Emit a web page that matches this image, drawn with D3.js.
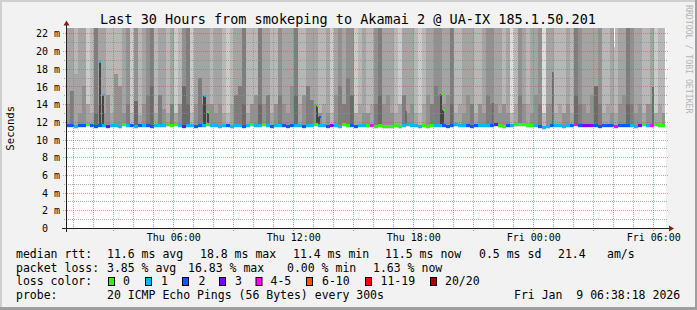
<!DOCTYPE html>
<html>
<head>
<meta charset="utf-8">
<script src="https://cdnjs.cloudflare.com/ajax/libs/d3/7.8.5/d3.min.js"></script>
<style>
  body { margin: 0; background: #f2f2f2; }
  svg text { font-family: "DejaVu Sans Mono", monospace; white-space: pre; }
</style>
</head>
<body>
<svg id="canvas" width="697" height="310"></svg>
<script>
// time axis: hours since Thu 00:00, graph ends Fri 06:38:18
let startHour = 38 / 60 + 18 / 3600
let spanHours = 30
let stepHours = 0.2 // one smoke column = 12 min

let titleText = "Last 30 Hours from smokeping to Akamai 2 @ UA-IX 185.1.50.201"

let xTickHours = [6, 12, 18, 24, 30]
let xTickLabels = ["Thu 06:00", "Thu 12:00", "Thu 18:00", "Fri 00:00", "Fri 06:00"]
let yTicks = [0, 2, 4, 6, 8, 10, 12, 14, 16, 18, 20, 22]

// median rtt (ms) per column
let medianRtt = [
  11.6,11.6,11.5,11.6,11.6,11.7,11.6,11.5,11.6,11.6,
  11.5,11.6,11.6,11.5,11.7,11.6,11.6,11.5,11.6,11.6,
  11.6,11.5,11.6,11.6,11.6,11.7,11.6,11.7,11.6,11.5,
  11.6,11.6,11.5,11.6,11.6,11.7,11.6,11.6,11.5,11.6,
  11.6,11.5,11.6,11.6,11.5,11.6,11.7,11.6,11.6,11.7,
  11.6,11.5,11.6,11.6,11.6,11.5,11.6,11.6,11.6,11.5,
  11.6,11.6,11.7,11.6,11.6,11.5,11.6,11.6,11.5,11.7,
  11.6,11.6,11.5,11.6,11.6,11.6,11.6,11.5,11.6,11.5,
  11.5,11.5,11.6,11.5,11.6,11.7,11.6,11.6,11.5,11.6,
  11.5,11.6,11.6,11.6,11.6,11.5,11.6,11.7,11.6,11.6,
  11.6,11.5,11.6,11.6,11.6,11.6,11.6,11.7,11.6,11.5,
  11.6,11.6,11.7,11.7,11.7,11.6,11.6,11.6,11.5,11.4,
  11.5,11.6,11.6,11.6,11.5,11.6,11.6,11.7,11.6,11.6,
  11.6,11.6,11.6,11.5,11.6,11.6,11.6,11.5,11.6,11.6,
  11.6,11.6,11.5,11.6,11.7,11.6,11.6,11.7,11.6,11.6
]

// fastest ping (ms) per column
let minRtt = [
  11.3,11.3,11.2,11.3,11.3,11.4,11.3,11.2,11.3,11.3,
  11.2,11.3,11.3,11.2,11.4,11.3,11.3,11.2,11.3,11.3,
  11.3,11.2,11.3,11.3,11.3,11.4,11.3,11.4,11.3,11.2,
  11.3,11.3,11.2,11.3,11.3,11.4,11.3,11.3,11.2,11.3,
  11.3,11.2,11.3,11.3,11.2,11.3,11.4,11.3,11.3,11.4,
  11.3,11.2,11.3,11.3,11.3,11.2,11.3,11.3,11.3,11.2,
  11.3,11.3,11.4,11.3,11.3,11.2,11.3,11.3,11.2,11.4,
  11.3,11.3,11.2,11.3,11.3,11.3,11.3,11.2,11.3,11.2,
  11.2,11.2,11.3,11.2,11.3,11.4,11.3,11.3,11.2,11.3,
  11.2,11.3,11.3,11.3,11.3,11.2,11.3,11.4,11.3,11.3,
  11.3,11.2,11.3,11.3,11.3,11.3,11.3,11.4,11.3,11.2,
  11.3,11.3,11.4,11.4,11.4,11.3,11.3,11.3,11.2,11.1,
  11.2,11.3,11.3,11.3,11.2,11.3,11.3,11.4,11.3,11.3,
  11.3,11.3,11.3,11.2,11.3,11.3,11.3,11.2,11.3,11.3,
  11.3,11.3,11.2,11.3,11.4,11.3,11.3,11.4,11.3,11.3
]

// lost pings (of 20) per column
let lostPings = [
  2,2,1,2,2,0,2,2,2,1,
  3,1,1,1,0,1,2,1,2,1,
  2,2,1,1,1,0,0,0,1,3,
  1,1,2,2,1,0,1,1,1,1,
  2,1,1,1,2,1,0,1,1,0,
  1,2,1,1,2,2,2,1,1,2,
  1,1,0,1,1,2,3,1,1,0,
  0,2,2,1,1,0,4,0,0,0,
  0,0,0,0,1,1,1,1,1,0,
  0,0,1,1,2,2,2,1,1,1,
  2,2,2,1,1,1,2,3,0,0,
  2,1,0,0,0,0,0,1,2,1,
  1,2,1,1,1,1,2,4,2,3,
  3,3,2,2,2,2,2,4,2,2,
  2,1,1,3,0,1,4,0,0,0
]

// smoke: pings still above the top of the dense part (they run off the graph)
let slowPings = [
  4,4,3,4,4,2,3,6,4,4,
  3,3,3,3,4,5,2,5,3,4,
  5,6,3,4,4,3,4,2,3,5,
  6,2,4,4,4,4,3,4,4,3,
  2,3,4,4,6,3,3,3,6,4,
  4,3,3,5,4,4,4,6,3,3,
  4,4,4,3,3,4,2,4,5,4,
  5,5,2,3,4,3,3,5,6,4,
  4,4,3,2,4,4,4,3,2,3,
  4,4,5,5,4,4,6,3,3,4,
  4,4,3,3,4,5,5,4,4,3,
  4,1,3,5,4,3,4,4,5,1,
  4,4,3,3,3,4,3,6,5,4,
  4,4,4,5,3,3,4,3,4,4,
  6,5,4,4,3,3,4,2,3,3
]
// rtt (ms) where the dense part of the smoke ends
let denseTopRtt = [
  14,15.5,17.4,13,16,14,13,13,14,13,
  15,13,17.4,16,13,14,13,14.4,12.8,14,
  15,16,13,15,13.5,13,14,13,14,16,
  14,13,14,17,14,14,14,13,14,13,
  13,14,15,16,14,13,14,15,14,14,
  15,13,14,15,14,13,16,15,14,15,
  16,14.5,14,13,14,13,13,15,16,14,
  17,15,13,14,13,13,14,14,15,14,
  15,13,13,14,15,13,14,13,13,14,
  15,14,16,15,14,15,14,13,14,13,
  15,14,13,14,13,15,14,14,13,14,
  13,13,14,15,14,14,13,15,14,13,
  14,14,13,14,13,14,13,15,14,14,
  13,15,16,14,13,14,13,13,14,15,
  14,14,13,14,13,14,14,13,14,13
]
// pings above the median in the dense part
let densePings = [
  5,6,4,5,5,4,4,7,5,5,
  5,4,5,5,5,6,3,7,4,5,
  6,7,4,6,5,4,6,4,5,7,
  7,3,5,6,6,5,5,5,5,4,
  3,4,6,6,7,4,5,5,7,5,
  6,4,5,6,5,5,5,7,4,5,
  6,6,5,5,4,5,3,5,6,6,
  6,7,4,4,5,5,4,6,7,5,
  5,5,4,4,6,5,5,4,3,4,
  5,6,6,6,5,5,7,4,4,5,
  5,6,4,5,5,6,6,5,5,5,
  5,3,4,6,5,4,5,5,6,3,
  5,5,4,4,5,5,4,7,6,5,
  5,5,7,6,4,4,5,4,5,5,
  7,6,5,5,4,5,5,4,4,5
]

// single 5 min steps where the median jumped
let spikeHours = [2.27, 2.44, 7.51, 7.67, 13.14, 13.25, 19.34, 19.44]
let spikeRtt = [18.8, 15.0, 14.9, 13.1, 13.8, 12.5, 15.1, 13.3]
let spikeLoss = [1, 1, 1, 0, 0, 2, 0, 0]

// single 5 min steps with a narrow dense smoke column
let denseHours = [17.61, 21.94, 24.94, 29.94]
let denseRtt = [13.25, 14.1, 17.6, 15.9]

// step where the slowest ping stayed on the graph
let gapHours = [28.02]
let gapRtt = [20.5]

let lossLabels = ["0", "1", "2", "3", "4-5", "6-10", "11-19", "20/20"]
let lossColors = ["#26ff00", "#00b8ff", "#0059ff", "#7e00ff", "#ff00ff", "#ff5500", "#ff0000", "#a10000"]
let lossUpper = [0, 1, 2, 3, 5, 10, 19, 20]

let legendRtt = [["median rtt:", 16], ["11.6 ms avg", 107], ["18.8 ms max", 200], ["11.4 ms min", 293],
  ["11.5 ms now", 385], ["0.5 ms sd", 479], ["21.4", 558], ["am/s", 607]]
let legendLoss = [["packet loss:", 16], ["3.85 % avg", 107], ["16.83 % max", 188], ["0.00 % min", 287], ["1.63 % now", 373]]
let legendProbe = [["probe:", 16], ["20 ICMP Echo Pings (56 Bytes) every 300s", 107], ["Fri Jan  9 06:38:18 2026", 514]]

let canvas = d3.select("#canvas")
let fiveMin = 1 / 12

let x = d3.scaleLinear().domain([startHour, startHour + spanHours]).range([66, 666])
let y = d3.scaleLinear().domain([0, 22.6]).range([228, 28])
let topRtt = y.domain()[1]

// smokeping shading: more pings around -> darker grey
let shade = (n) => {
  let g = Math.floor(190 / 10 * (10 - n)) + 50
  return `rgb(${g},${g},${g})`
}
let lossColor = (n) => lossColors[lossUpper.findIndex((u) => n <= u)]

// frame
canvas.append("rect").attr("width", 697).attr("height", 310).attr("fill", "#f2f2f2")
canvas.append("rect").attr("x", 0).attr("y", 0).attr("width", 697).attr("height", 2).attr("fill", "#cfcfcf")
canvas.append("rect").attr("x", 0).attr("y", 0).attr("width", 2).attr("height", 310).attr("fill", "#cfcfcf")
canvas.append("rect").attr("x", 0).attr("y", 307).attr("width", 697).attr("height", 3).attr("fill", "#9e9e9e")
canvas.append("rect").attr("x", 695).attr("y", 0).attr("width", 2).attr("height", 310).attr("fill", "#9e9e9e")

canvas.append("rect")
  .attr("x", x(startHour)).attr("y", y(topRtt))
  .attr("width", x(startHour + spanHours) - x(startHour))
  .attr("height", y(0) - y(topRtt))
  .attr("fill", "#ffffff")

canvas.append("clipPath").attr("id", "plotClip")
  .append("rect")
  .attr("x", x(startHour)).attr("y", y(topRtt))
  .attr("width", x(startHour + spanHours) - x(startHour) - 1)
  .attr("height", y(0) - y(topRtt))

let smoke = canvas.append("g").attr("clip-path", "url(#plotClip)").attr("shape-rendering", "crispEdges")
let colX = (i) => x(startHour + i * stepHours)

// upper smoke, running off the top
smoke.selectAll(".upper")
  .data(slowPings)
  .enter()
  .append("rect")
  .attr("class", "upper")
  .attr("x", (d, i) => colX(i))
  .attr("width", (d, i) => colX(i + 1) - colX(i))
  .attr("y", y(topRtt))
  .attr("height", (d, i) => y(denseTopRtt[i]) - y(topRtt))
  .attr("fill", (d) => shade(d))

// dense smoke above the median
smoke.selectAll(".dense")
  .data(densePings)
  .enter()
  .append("rect")
  .attr("class", "dense")
  .attr("x", (d, i) => colX(i))
  .attr("width", (d, i) => colX(i + 1) - colX(i))
  .attr("y", (d, i) => y(denseTopRtt[i]))
  .attr("height", (d, i) => y(medianRtt[i]) - y(denseTopRtt[i]))
  .attr("fill", (d) => shade(d))

// white notch where nothing was slower
smoke.selectAll(".gap")
  .data(gapHours)
  .enter()
  .append("rect")
  .attr("x", (d) => x(d))
  .attr("width", (d) => x(d + fiveMin) - x(d))
  .attr("y", y(topRtt))
  .attr("height", (d, i) => y(gapRtt[i]) - y(topRtt))
  .attr("fill", "#ffffff")

// narrow dense columns
smoke.selectAll(".narrow")
  .data(denseHours)
  .enter()
  .append("rect")
  .attr("x", (d) => x(d))
  .attr("width", (d) => x(d + fiveMin) - x(d))
  .attr("y", (d, i) => y(denseRtt[i]))
  .attr("height", (d, i) => y(11.6) - y(denseRtt[i]))
  .attr("fill", shade(7))

// smoke under the median spikes
smoke.selectAll(".spikebar")
  .data(spikeHours)
  .enter()
  .append("rect")
  .attr("x", (d) => x(d))
  .attr("width", (d) => x(d + fiveMin) - x(d) + 0.4)
  .attr("y", (d, i) => y(spikeRtt[i]))
  .attr("height", (d, i) => y(11.6) - y(spikeRtt[i]))
  .attr("fill", shade(9))

// fastest pings below the median
smoke.selectAll(".lower")
  .data(minRtt)
  .enter()
  .append("rect")
  .attr("x", (d, i) => colX(i))
  .attr("width", (d, i) => colX(i + 1) - colX(i))
  .attr("y", (d, i) => y(medianRtt[i]))
  .attr("height", (d, i) => y(d) - y(medianRtt[i]))
  .attr("fill", shade(1))

// median line coloured by loss
smoke.selectAll(".median")
  .data(medianRtt)
  .enter()
  .append("rect")
  .attr("x", (d, i) => colX(i))
  .attr("width", (d, i) => colX(i + 1) - colX(i))
  .attr("y", (d) => y(d) - 1)
  .attr("height", 2.5)
  .attr("fill", (d, i) => lossColor(lostPings[i]))

smoke.selectAll(".spikedot")
  .data(spikeHours)
  .enter()
  .append("rect")
  .attr("x", (d) => x(d) + 0.5)
  .attr("width", 2)
  .attr("y", (d, i) => y(spikeRtt[i]) - 1)
  .attr("height", 2)
  .attr("fill", (d, i) => lossColor(spikeLoss[i]))

// grid on top of the graph, rrdtool style
let grid = canvas.append("g").attr("stroke-dasharray", "1,1").attr("shape-rendering", "crispEdges")
let hours = d3.range(Math.ceil(startHour), startHour + spanHours, 1)
grid.selectAll(".vgrid")
  .data(hours)
  .enter()
  .append("line")
  .attr("x1", (d) => Math.round(x(d)) + 0.5)
  .attr("x2", (d) => Math.round(x(d)) + 0.5)
  .attr("y1", y(topRtt))
  .attr("y2", (d) => d % 3 === 0 ? 231 : 230)
  .attr("stroke", (d) => d % 3 === 0 ? "rgba(222,79,79,0.6)" : "rgba(143,143,143,0.75)")

let rttLines = d3.range(1, 23, 1)
grid.selectAll(".hgrid")
  .data(rttLines)
  .enter()
  .append("line")
  .attr("x1", (d) => d % 2 === 0 ? 63 : 64)
  .attr("x2", 668)
  .attr("y1", (d) => Math.round(y(d)) + 0.5)
  .attr("y2", (d) => Math.round(y(d)) + 0.5)
  .attr("stroke", (d) => d % 2 === 0 ? "rgba(222,79,79,0.6)" : "rgba(143,143,143,0.75)")

// axes lines and arrows
canvas.append("line").attr("x1", 62).attr("x2", 670).attr("y1", 228.5).attr("y2", 228.5)
  .attr("stroke", "#1f1f1f").attr("stroke-width", 1)
canvas.append("line").attr("x1", 66.5).attr("x2", 66.5).attr("y1", 232).attr("y2", 24)
  .attr("stroke", "#1f1f1f").attr("stroke-width", 1)
canvas.append("path").attr("d", "M669,225.5L674,228.5L669,231.5Z").attr("fill", "#801f1f")
canvas.append("path").attr("d", "M63.5,25.5L66.5,20.5L69.5,25.5Z").attr("fill", "#801f1f")

// axis labels through d3 axes
let xAxis = d3.axisBottom(x)
  .tickValues(xTickHours)
  .tickFormat((d, i) => xTickLabels[i])
  .tickSize(0)
canvas.append("g")
  .attr("transform", "translate(0,228)")
  .call(xAxis)
  .call((g) => g.select(".domain").remove())
  .selectAll("text")
  .attr("y", 13)
  .attr("dy", 0)
  .attr("font-family", "DejaVu Sans Mono")
  .attr("font-size", "10px")
  .attr("fill", "#000")

let yAxis = d3.axisLeft(y)
  .tickValues(yTicks)
  .tickFormat((d) => d === 0 ? "0" : d + " m")
  .tickSize(0)
canvas.append("g")
  .attr("transform", "translate(66,0)")
  .call(yAxis)
  .call((g) => g.select(".domain").remove())
  .selectAll("text")
  .attr("x", (d) => d === 0 ? -18 : -6)
  .attr("dy", "0.36em")
  .attr("font-family", "DejaVu Sans Mono")
  .attr("font-size", "10px")
  .attr("fill", "#000")

canvas.append("text")
  .attr("transform", "translate(14,128.3) rotate(-90)")
  .attr("text-anchor", "middle")
  .attr("font-size", "10.6px")
  .text("Seconds")

canvas.append("text")
  .attr("x", 348)
  .attr("y", 24)
  .attr("text-anchor", "middle")
  .attr("font-size", "13.5px")
  .text(titleText)

canvas.append("text")
  .attr("transform", "translate(686,5) rotate(90)")
  .attr("font-size", "8.2px")
  .attr("fill", "#b4b4b4")
  .text("RRDTOOL / TOBI OETIKER")

// legend
let legendFont = "11.5px"
let addRow = (items, baseline) => {
  canvas.append("g").selectAll("text")
    .data(items)
    .enter()
    .append("text")
    .attr("x", (d) => d[1])
    .attr("y", baseline)
    .attr("font-size", legendFont)
    .attr("xml:space", "preserve")
    .text((d) => d[0])
}
addRow(legendRtt, 258)
addRow(legendLoss, 271.6)
addRow([["loss color:", 16]], 285.2)
addRow(legendProbe, 298.8)

let boxX = [108.5, 145.5, 182.5, 219.5, 256, 306.5, 365.5, 430.5]
let labelX = [123, 161, 198.5, 235, 270.5, 322, 380.5, 445]
canvas.append("g").selectAll("rect")
  .data(lossColors)
  .enter()
  .append("rect")
  .attr("x", (d, i) => boxX[i])
  .attr("y", 277.5)
  .attr("width", 6)
  .attr("height", 8)
  .attr("fill", (d) => d)
  .attr("stroke", "#000")
  .attr("stroke-width", 1)
canvas.append("g").selectAll("text")
  .data(lossLabels)
  .enter()
  .append("text")
  .attr("x", (d, i) => labelX[i])
  .attr("y", 285.2)
  .attr("font-size", legendFont)
  .text((d) => d)
</script>
</body>
</html>
